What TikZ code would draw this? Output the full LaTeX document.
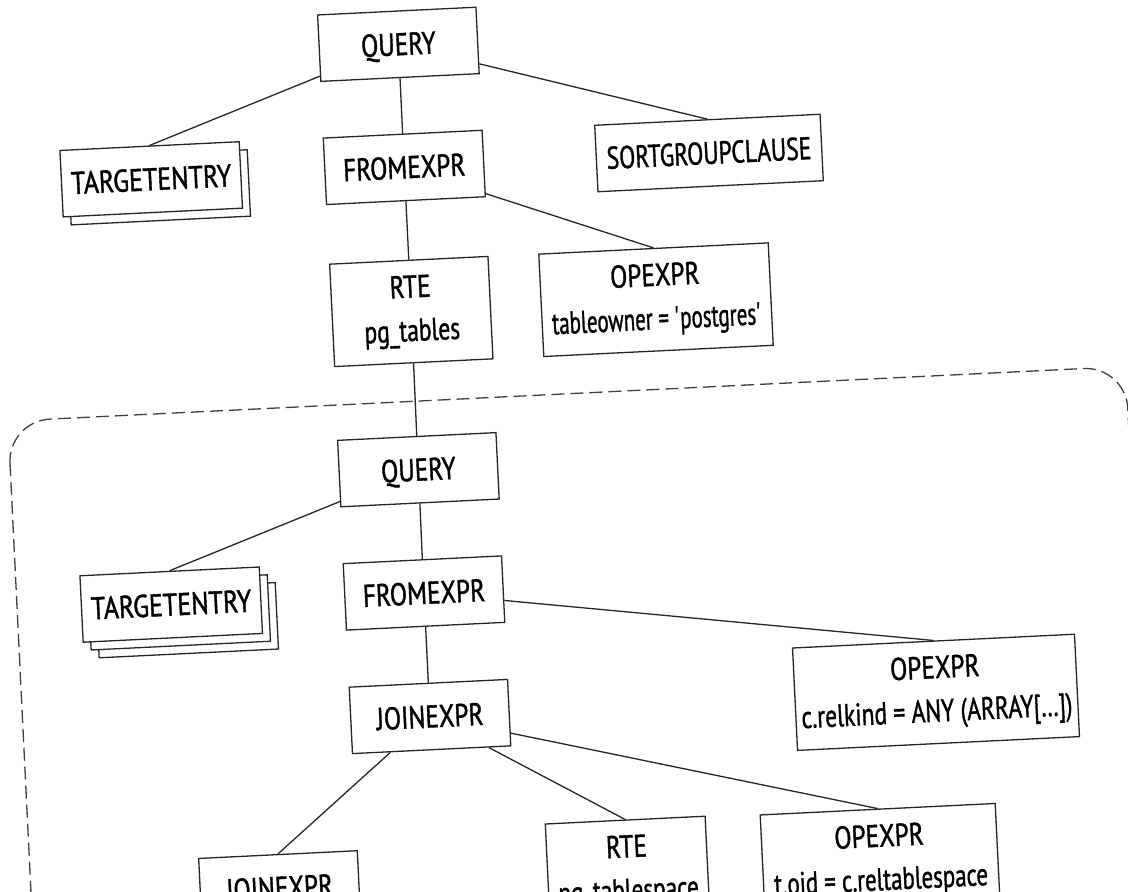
\documentclass[tikz,border=0pt]{standalone}
\usepackage{fontspec}
\setmainfont{PT Sans}[FakeStretch=0.8, FakeBold=1.2]
\definecolor{edgec}{HTML}{262626}
\definecolor{dashc}{HTML}{404040}
\newcommand{\hsq}[2]{\scalebox{#1}[1]{#2}}
\tikzset{
  box/.style={draw=edgec, line width=1.3pt, fill=white, rectangle, inner sep=0pt, rotate=2.8,
     font=\fontsize{31.5}{43.5}\selectfont, align=center, text=black},
  one/.style={box, minimum height=66.5pt, text height=22pt, text depth=0pt},
  two/.style={box, minimum height=102.5pt},
  link/.style={draw=edgec, line width=1.3pt},
  frame/.style={draw=dashc, line width=1.3pt, dash pattern=on 13pt off 6pt, rounded corners=42pt},
}
\begin{document}
\begin{tikzpicture}[x=1pt,y=1pt]
\useasboundingbox (0,0) rectangle (1128,-892);
\clip (0,0) rectangle (1128,-892);
\fill[white] (0,0) rectangle (1128,-892);
\draw[frame, rotate around={2.8:(564,-446)}] (9.8,-394) rectangle (1129,-1150);

% upper tree
\node[one, minimum width=158.5pt] (q1) at (398.4,-44.3) {QUERY};
\node[one, minimum width=179.5pt] (te1b) at (159.2,-187.3) {};
\node[one, minimum width=179.5pt] (te1) at (151.2,-179.3) {\hsq{1.03}{TARGETENTRY}};
\node[one, minimum width=159pt] (f1) at (404.3,-167.4) {FROMEXPR};
\node[two, minimum width=158.5pt] (r1) at (411.3,-311.5) {RTE\\\hsq{0.93}{pg\_tables}};
\node[one, minimum width=225.6pt] (sg) at (709,-153) {\hsq{0.935}{SORTGROUPCLAUSE}};
\node[two, minimum width=229.7pt] (o1) at (656,-299.7) {OPEXPR\\\hsq{0.83}{tableowner = \textquotesingle postgres\textquotesingle}};

% lower tree
\node[one, minimum width=158.5pt] (q2) at (418.4,-469.7) {QUERY};
\node[one, minimum width=179.5pt] (te2c) at (187.2,-620.2) {};
\node[one, minimum width=179.5pt] (te2b) at (179.2,-612.4) {};
\node[one, minimum width=179.5pt] (te2) at (171.2,-604.6) {\hsq{1.03}{TARGETENTRY}};
\node[one, minimum width=158.5pt] (f2) at (424,-593) {FROMEXPR};
\node[one, minimum width=158.5pt] (j1) at (430,-716.5) {JOINEXPR};
\node[two, minimum width=282.3pt] (o2) at (936,-692.3) {OPEXPR\\\hsq{0.935}{c.relkind = ANY (ARRAY[…])}};
\node[two, minimum width=235.3pt] (o3) at (880.2,-860.4) {OPEXPR\\\hsq{0.91}{t.oid = c.reltablespace}};
\node[two, minimum width=160pt] (r2) at (627.7,-871.3) {RTE\\\hsq{0.92}{pg\_tablespace}};
\node[one, minimum width=158.8pt] (j2) at (279.6,-887.8) {JOINEXPR};

% connectors
\draw[link] (q1) -- (te1.north);
\draw[link] (q1) -- (f1.north);
\draw[link] (q1) -- (sg.north);
\draw[link] (f1) -- (r1.north);
\draw[link] (f1) -- (o1.north);
\draw[link] (r1) -- (q2.north);
\draw[link] (q2) -- (te2.north);
\draw[link] (q2) -- (f2.north);
\draw[link] (f2) -- (j1.north);
\draw[link] (f2) -- (o2.north);
\draw[link] (j1) -- (j2.north);
\draw[link] (j1) -- (r2.north);
\draw[link] (j1) -- (o3.north);
\end{tikzpicture}
\end{document}
